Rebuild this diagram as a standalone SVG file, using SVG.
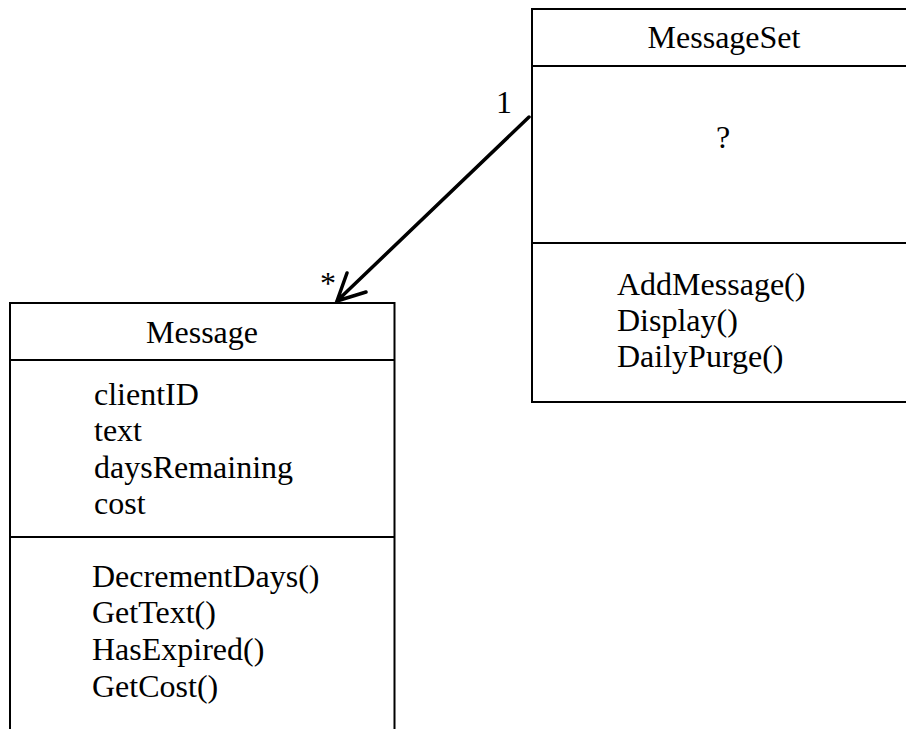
<svg xmlns="http://www.w3.org/2000/svg" width="906" height="729" viewBox="0 0 906 729">
<style>
.t{font-family:"Liberation Serif","Times New Roman",serif;font-size:32px;fill:#000}
.c{text-anchor:middle}
.b{fill:none;stroke:#000;stroke-width:2}
</style>
<rect width="906" height="729" fill="#fff"/>
<g id="MessageSet">
<path class="b" d="M908 9H532V402H908M532 66H908M532 243H908"/>
<text class="t c" x="724" y="48">MessageSet</text>
<text class="t c" x="723" y="148">?</text>
<text class="t" x="617" y="295">AddMessage()</text>
<text class="t" x="617" y="331">Display()</text>
<text class="t" x="617" y="367">DailyPurge()</text>
</g>
<g id="Message">
<path class="b" d="M10 731V303H394.5V731M10 360H394.5M10 537H394.5"/>
<text class="t c" x="202" y="343">Message</text>
<text class="t" x="94" y="405">clientID</text>
<text class="t" x="94" y="441">text</text>
<text class="t" x="94" y="478">daysRemaining</text>
<text class="t" x="94" y="514">cost</text>
<text class="t" x="92" y="587">DecrementDays()</text>
<text class="t" x="92" y="623">GetText()</text>
<text class="t" x="92" y="660">HasExpired()</text>
<text class="t" x="92" y="697">GetCost()</text>
</g>
<g id="connectors">
<path d="M529 117L337 301M347 273L337 301L366 292" fill="none" stroke="#000" stroke-width="3.5" stroke-linecap="round" stroke-linejoin="miter"/>
<text class="t c" x="504" y="113">1</text>
<text class="t c" x="328" y="294">*</text>
</g>
</svg>
